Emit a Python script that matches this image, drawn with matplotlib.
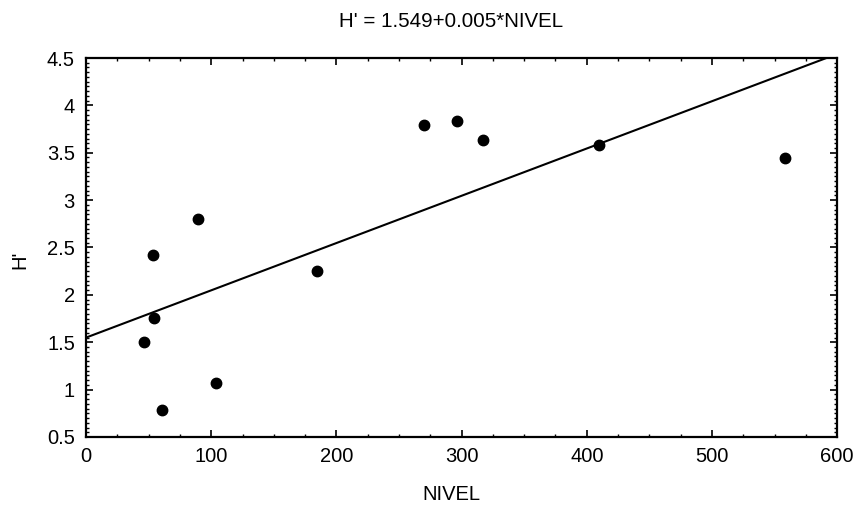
import matplotlib
matplotlib.use("Agg")
import matplotlib.pyplot as plt
from matplotlib.ticker import MultipleLocator, FuncFormatter
import numpy as np

plt.rcParams['font.family'] = ['Liberation Sans', 'DejaVu Sans']

nivel = [46.6, 53.3, 54.6, 60.5, 89.7, 103.6, 184.3, 270.3, 296.2, 316.7, 409.9, 558.0]
h_prime = [1.50, 2.42, 1.76, 0.79, 2.80, 1.07, 2.25, 3.79, 3.84, 3.63, 3.58, 3.44]
intercept = 1.549
slope = 0.00499
title = "H' = 1.549+0.005*NIVEL"

fs = 14.5
fig = plt.figure(figsize=(8.56, 5.08), dpi=100)
ax = fig.add_axes([0.1005, 0.1398, 0.8775, 0.746])

xl = np.array([0, 600])
ax.plot(xl, intercept + slope * xl, color='black', lw=1.5, clip_on=True)
ax.plot(nivel, h_prime, 'o', color='black', markersize=7.5, clip_on=False)

ax.set_xlim(0, 600)
ax.set_ylim(0.5, 4.5)
ax.xaxis.set_major_locator(MultipleLocator(100))
ax.xaxis.set_minor_locator(MultipleLocator(25))
ax.yaxis.set_major_locator(MultipleLocator(0.5))
ax.yaxis.set_minor_locator(MultipleLocator(0.05))
ax.yaxis.set_major_formatter(FuncFormatter(lambda v, p: f"{v:g}"))
ax.tick_params(which='both', direction='in', top=True, right=True, labelsize=fs, color='black')
ax.tick_params(which='major', length=5, width=1.2)
ax.tick_params(axis='x', which='major', pad=7)
ax.tick_params(axis='y', which='major', pad=8)
ax.tick_params(which='minor', length=2.5, width=1.0)
for s in ax.spines.values():
    s.set_linewidth(1.6)

ax.set_xlabel("NIVEL", fontsize=fs)
ax.xaxis.set_label_coords(0.486, -0.127)
ax.set_ylabel("H'", fontsize=fs)
ax.yaxis.set_label_coords(-0.076, 0.467)
ax.set_title(title, fontsize=14.8, x=0.486, y=1.081, pad=0)

fig.savefig("out.png", dpi=100)
